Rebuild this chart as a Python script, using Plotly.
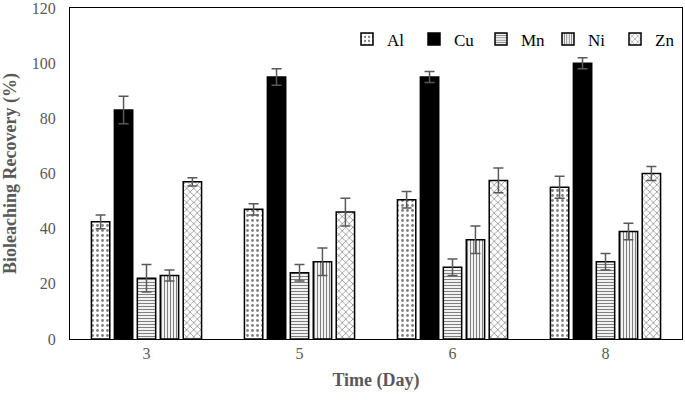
import plotly.graph_objects as go

days = ["3", "5", "6", "8"]
metals = ["Al", "Cu", "Mn", "Ni", "Zn"]
al = [42.5, 47, 50.5, 55]
cu = [83, 95, 95, 100]
mn = [22, 24, 26, 28]
ni = [23, 28, 36, 39]
zn = [57, 46, 57.5, 60]
al_err = [2.5, 2, 3, 4]
cu_err = [5, 3, 2, 2]
mn_err = [5, 3, 3, 3]
ni_err = [2, 5, 5, 3]
zn_err = [1.5, 5, 4.5, 2.5]

values = [al, cu, mn, ni, zn]
errors = [al_err, cu_err, mn_err, ni_err, zn_err]
patterns = [".", "", "-", "|", "x"]
fills = ["white", "black", "white", "white", "white"]
psizes = [5, 5, 3, 3, 5]
psol = [0.25, 0.3, 0.4, 0.4, 0.25]

fig = go.Figure()
for name, v, e, p, f, ps, so in zip(metals, values, errors, patterns, fills, psizes, psol):
    fig.add_trace(go.Bar(
        x=days, y=v, name=name,
        marker=dict(color=f, line=dict(color="black", width=1.5),
                    pattern=dict(shape=p, fgcolor="black", bgcolor=f, size=ps, solidity=so)),
        error_y=dict(type="data", array=e, color="#595959", thickness=1.5, width=5),
    ))

font_fam = "Liberation Serif, Times New Roman, serif"
fig.update_layout(
    width=685, height=400,
    margin=dict(l=70, r=3, t=8, b=61, autoexpand=False),
    paper_bgcolor="white", plot_bgcolor="white",
    barmode="group", bargap=0.25, bargroupgap=0.2,
    font=dict(family=font_fam, color="#595959", size=16),
    legend=dict(orientation="h", x=1.0, xanchor="right", y=0.905, yanchor="middle",
                font=dict(size=17, color="black"), itemwidth=30, entrywidth=22,
                traceorder="normal", bgcolor="rgba(0,0,0,0)"),
    xaxis=dict(title=dict(text="<b>Time (Day)</b>", font=dict(size=18, color="#595959"), standoff=12),
               showline=True, linecolor="black", linewidth=1, mirror=True, ticks="",
               automargin=False),
    yaxis=dict(title=dict(text="<b>Bioleaching Recovery (%)</b>", font=dict(size=18, color="#595959"), standoff=14),
               range=[0, 120], dtick=20, showgrid=False, zeroline=False,
               showline=True, linecolor="black", linewidth=1, mirror=True, ticks="",
               ticklabelstandoff=10, ticklabeloverflow="allow", automargin=False),
)
post = ("document.documentElement.style.overflow='hidden';"
        "document.body.style.margin='0';document.body.style.overflow='hidden';"
        "var gd=document.getElementById('{plot_id}');Plotly.relayout(gd,{width:685,height:400});")
fig.write_html("out.html", post_script=post, config={"displayModeBar": False})
